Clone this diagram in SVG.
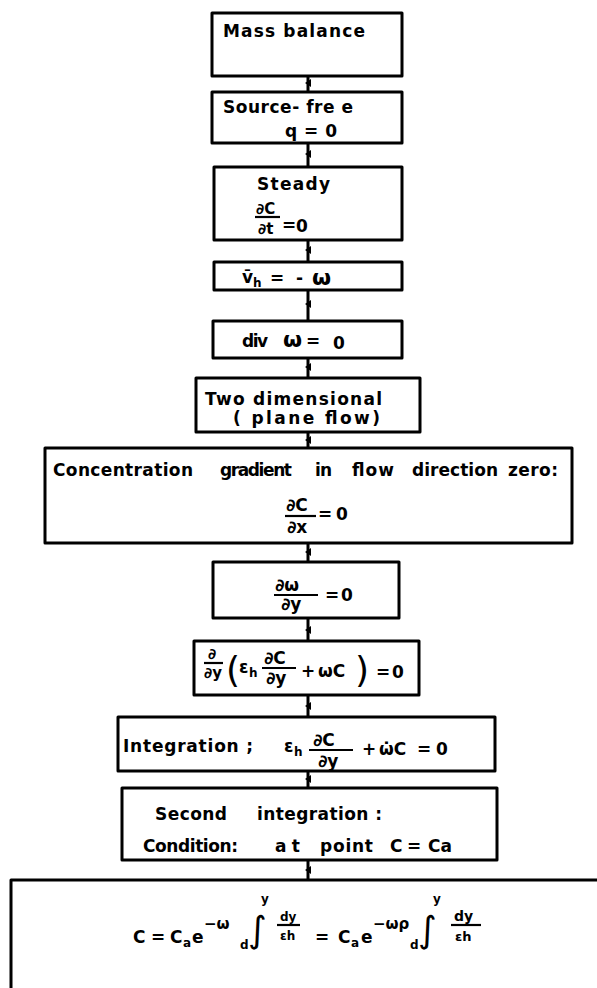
<svg xmlns="http://www.w3.org/2000/svg" width="597" height="988" viewBox="0 0 597 988">
<defs>
<style>
.box{fill:#fff;stroke:#000;stroke-width:3;stroke-linejoin:round}
.t{font-family:"DejaVu Sans","Liberation Sans",sans-serif;font-weight:bold;font-size:17px;fill:#000}
.s{font-size:12px}
.big{font-size:36px;font-weight:normal}
.fl{stroke:#000;stroke-width:2.2}
.conn{stroke:#000;stroke-width:3;fill:none}
</style>
<marker id="ah" markerWidth="8" markerHeight="8" refX="4" refY="4" orient="auto" markerUnits="userSpaceOnUse">
<path d="M0,1 L4,7 L8,1 Z" fill="#000"/>
</marker>
</defs>
<rect width="597" height="988" fill="#fff"/>

<g id="connectors">
<polyline class="conn" points="308,76 308,83 308,92" marker-mid="url(#ah)"/>
<polyline class="conn" points="308,143 308,154 308,167" marker-mid="url(#ah)"/>
<polyline class="conn" points="308,240 308,250 308,262" marker-mid="url(#ah)"/>
<polyline class="conn" points="308,290 308,304 308,321" marker-mid="url(#ah)"/>
<polyline class="conn" points="308,358 308,367 308,378" marker-mid="url(#ah)"/>
<polyline class="conn" points="308,432 308,440 308,448" marker-mid="url(#ah)"/>
<polyline class="conn" points="308,543 308,552 308,562" marker-mid="url(#ah)"/>
<polyline class="conn" points="308,618 308,630 308,641" marker-mid="url(#ah)"/>
<polyline class="conn" points="308,695 308,706 308,717" marker-mid="url(#ah)"/>
<polyline class="conn" points="308,771 308,779 308,788" marker-mid="url(#ah)"/>
<polyline class="conn" points="308,860 308,870 308,880" marker-mid="url(#ah)"/>
</g>

<g id="n1">
<rect class="box" x="212" y="13" width="190" height="63"/>
<text class="t" x="223" y="37" textLength="142" lengthAdjust="spacing">Mass balance</text>
</g>

<g id="n2">
<rect class="box" x="212" y="92" width="190" height="51"/>
<text class="t" x="223" y="113" textLength="130" lengthAdjust="spacing">Source- fre e</text>
<text class="t" x="285" y="137" textLength="52" lengthAdjust="spacing">q = 0</text>
</g>

<g id="n3">
<rect class="box" x="214" y="167" width="188" height="73"/>
<text class="t" x="257" y="190" textLength="73" lengthAdjust="spacing">Steady</text>
<text class="t" x="256" y="214" style="font-size:15px">∂C</text>
<line class="fl" x1="255" y1="217" x2="280" y2="217"/>
<text class="t" x="258" y="234" style="font-size:15px">∂t</text>
<text class="t" x="282" y="231">=</text>
<text class="t" x="296" y="232">0</text>
</g>

<g id="n4">
<rect class="box" x="214" y="262" width="188" height="28"/>
<text class="t" x="242" y="283">v̄</text>
<text class="t s" x="253" y="287">h</text>
<text class="t" x="270" y="284">=</text>
<text class="t" x="296" y="284">-</text>
<text class="t" x="312" y="285" style="font-size:22px">ω</text>
</g>

<g id="n5">
<rect class="box" x="213" y="321" width="189" height="37"/>
<text class="t" x="242" y="347" textLength="26" lengthAdjust="spacing">div</text>
<text class="t" x="283" y="347" style="font-size:22px">ω</text>
<text class="t" x="306" y="347">=</text>
<text class="t" x="333" y="349">0</text>
</g>

<g id="n6">
<rect class="box" x="196" y="378" width="224" height="54"/>
<text class="t" x="205" y="405" textLength="177" lengthAdjust="spacing">Two dimensional</text>
<text class="t" x="233" y="424" textLength="147" lengthAdjust="spacing">( plane  flow)</text>
</g>

<g id="n7">
<rect class="box" x="45" y="448" width="527" height="95"/>
<text class="t" x="53" y="476" textLength="140" lengthAdjust="spacing">Concentration</text>
<text class="t" x="220" y="476" textLength="72" lengthAdjust="spacing">gradient</text>
<text class="t" x="315" y="476" textLength="17" lengthAdjust="spacing">in</text>
<text class="t" x="352" y="476" textLength="42" lengthAdjust="spacing">flow</text>
<text class="t" x="412" y="476" textLength="86" lengthAdjust="spacing">direction</text>
<text class="t" x="508" y="476" textLength="50" lengthAdjust="spacing">zero:</text>
<text class="t" x="286" y="511">∂C</text>
<line class="fl" x1="285" y1="516" x2="316" y2="516"/>
<text class="t" x="287" y="533">∂x</text>
<text class="t" x="318" y="520">=</text>
<text class="t" x="336" y="520">0</text>
</g>

<g id="n8">
<rect class="box" x="213" y="562" width="186" height="56"/>
<text class="t" x="275" y="591">∂ω</text>
<line class="fl" x1="274" y1="595" x2="318" y2="595"/>
<text class="t" x="281" y="610">∂y</text>
<text class="t" x="325" y="601">=</text>
<text class="t" x="341" y="601">0</text>
</g>

<g id="n9">
<rect class="box" x="194" y="641" width="225" height="54"/>
<text class="t" x="208" y="659" style="font-size:15px">∂</text>
<line class="fl" x1="204" y1="663" x2="223" y2="663"/>
<text class="t" x="204" y="678" style="font-size:15px">∂y</text>
<text class="t big" x="226" y="682">(</text>
<text class="t" x="239" y="673">ε</text>
<text class="t s" x="249" y="677">h</text>
<text class="t" x="264" y="664">∂C</text>
<line class="fl" x1="262" y1="668" x2="296" y2="668"/>
<text class="t" x="266" y="684">∂y</text>
<text class="t" x="301" y="677">+</text>
<text class="t" x="318" y="677">ωC</text>
<text class="t big" x="355" y="682">)</text>
<text class="t" x="376" y="678">=</text>
<text class="t" x="392" y="678">0</text>
</g>

<g id="n10">
<rect class="box" x="118" y="717" width="377" height="54"/>
<text class="t" x="123" y="752" textLength="130" lengthAdjust="spacing">Integration ;</text>
<text class="t" x="284" y="752">ε</text>
<text class="t s" x="294" y="756">h</text>
<text class="t" x="313" y="746">∂C</text>
<line class="fl" x1="309" y1="750" x2="353" y2="750"/>
<text class="t" x="318" y="767">∂y</text>
<text class="t" x="362" y="755">+</text>
<text class="t" x="379" y="755">ω̇C</text>
<text class="t" x="417" y="755">=</text>
<text class="t" x="436" y="755">0</text>
</g>

<g id="n11">
<rect class="box" x="122" y="788" width="375" height="72"/>
<text class="t" x="155" y="820" textLength="72" lengthAdjust="spacing">Second</text>
<text class="t" x="257" y="820" textLength="125" lengthAdjust="spacing">integration :</text>
<text class="t" x="143" y="852" textLength="95" lengthAdjust="spacing">Condition:</text>
<text class="t" x="275" y="852" textLength="25" lengthAdjust="spacing">at</text>
<text class="t" x="320" y="852" textLength="53" lengthAdjust="spacing">point</text>
<text class="t" x="390" y="852">C</text>
<text class="t" x="407" y="852">=</text>
<text class="t" x="428" y="852">Ca</text>
</g>

<g id="n12">
<rect class="box" x="11" y="880" width="600" height="120"/>
<text class="t" x="133" y="943">C</text>
<text class="t" x="151" y="943">=</text>
<text class="t" x="170" y="943">C</text>
<text class="t s" x="183" y="947">a</text>
<text class="t" x="192" y="943">e</text>
<text class="t" x="204" y="929" style="font-size:15px">−ω</text>
<text class="t s" x="240" y="949">d</text>
<text class="t big" x="248" y="942">∫</text>
<text class="t s" x="261" y="903">y</text>
<text class="t s" x="280" y="921">dy</text>
<line class="fl" x1="277" y1="925" x2="300" y2="925"/>
<text class="t s" x="280" y="940">εh</text>
<text class="t" x="315" y="943">=</text>
<text class="t" x="338" y="943">C</text>
<text class="t s" x="351" y="947">a</text>
<text class="t" x="361" y="943">e</text>
<text class="t" x="373" y="929" style="font-size:15px">−ωρ</text>
<text class="t s" x="410" y="949">d</text>
<text class="t big" x="418" y="942">∫</text>
<text class="t s" x="433" y="903">y</text>
<text class="t" x="454" y="921" style="font-size:14px">dy</text>
<line class="fl" x1="451" y1="925" x2="481" y2="925"/>
<text class="t" x="455" y="941" style="font-size:13px">εh</text>
</g>
</svg>
